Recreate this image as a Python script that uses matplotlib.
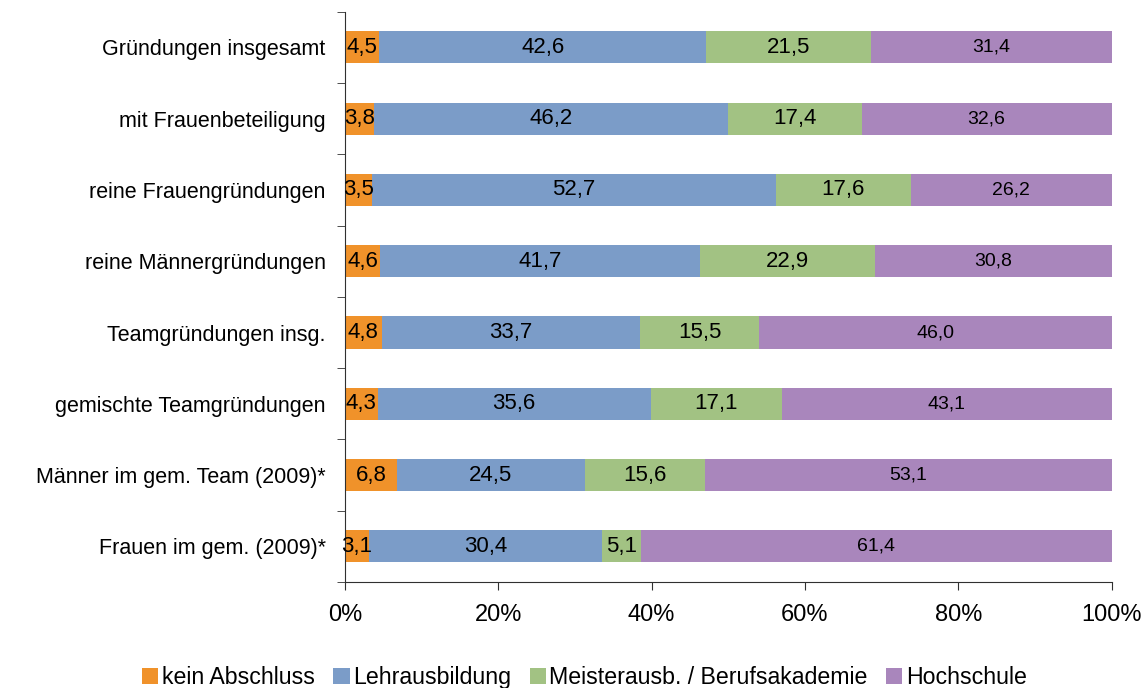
import matplotlib
matplotlib.use("Agg")
import matplotlib.pyplot as plt
import numpy as np

categories = ["Gründungen insgesamt", "mit Frauenbeteiligung", "reine Frauengründungen",
              "reine Männergründungen", "Teamgründungen insg.", "gemischte Teamgründungen",
              "Männer im gem. Team (2009)*", "Frauen im gem. (2009)*"]
series_names = ["kein Abschluss", "Lehrausbildung", "Meisterausb. / Berufsakademie", "Hochschule"]
kein = [4.5, 3.8, 3.5, 4.6, 4.8, 4.3, 6.8, 3.1]
lehr = [42.6, 46.2, 52.7, 41.7, 33.7, 35.6, 24.5, 30.4]
meister = [21.5, 17.4, 17.6, 22.9, 15.5, 17.1, 15.6, 5.1]
hoch = [31.4, 32.6, 26.2, 30.8, 46.0, 43.1, 53.1, 61.4]
xticklabels = ["0%", "20%", "40%", "60%", "80%", "100%"]

colors = ["#F0922A", "#7B9CC8", "#A2C283", "#A986BC"]
label_sizes = [16, 16, 16, 14]

plt.rcParams['font.family'] = ['Liberation Sans', 'DejaVu Sans']

fig = plt.figure(figsize=(11.46, 6.88), dpi=100)
ax = fig.add_axes([0.301, 0.154, 0.669, 0.829])

data = np.array([kein, lehr, meister, hoch])
totals = data.sum(axis=0)
pct = data / totals * 100
y = np.arange(len(categories))
left = np.zeros(len(categories))
for i, name in enumerate(series_names):
    bars = ax.barh(y, pct[i], left=left, height=0.45, color=colors[i], label=name)
    for j, b in enumerate(bars):
        ax.text(left[j] + pct[i][j] / 2, y[j], f"{data[i][j]:.1f}".replace(".", ","),
                ha="center", va="center", fontsize=label_sizes[i], color="black")
    left += pct[i]

ax.set_ylim(len(categories) - 0.5, -0.5)
ax.set_xlim(0, 100)
ax.set_yticks(y)
ax.set_yticklabels(categories, fontsize=15.5)
ax.set_yticks(np.arange(-0.5, len(categories)), minor=True)
ax.tick_params(axis="y", which="major", length=0, pad=14)
ax.tick_params(axis="y", which="minor", length=6, direction="out", color="#303030")
ax.set_xticks(np.linspace(0, 100, 6))
ax.set_xticklabels(xticklabels, fontsize=17)
ax.tick_params(axis="x", direction="out", length=6, pad=10, color="#303030")
for s in ["top", "right"]:
    ax.spines[s].set_visible(False)
for s in ["left", "bottom"]:
    ax.spines[s].set_color("#303030")

leg = fig.legend(loc="lower center", bbox_to_anchor=(0.51, -0.032), ncol=4, frameon=False,
                 fontsize=16.7, handlelength=0.7, handleheight=0.7, handletextpad=0.15,
                 columnspacing=0.8)

fig.savefig("out.png", dpi=100)
